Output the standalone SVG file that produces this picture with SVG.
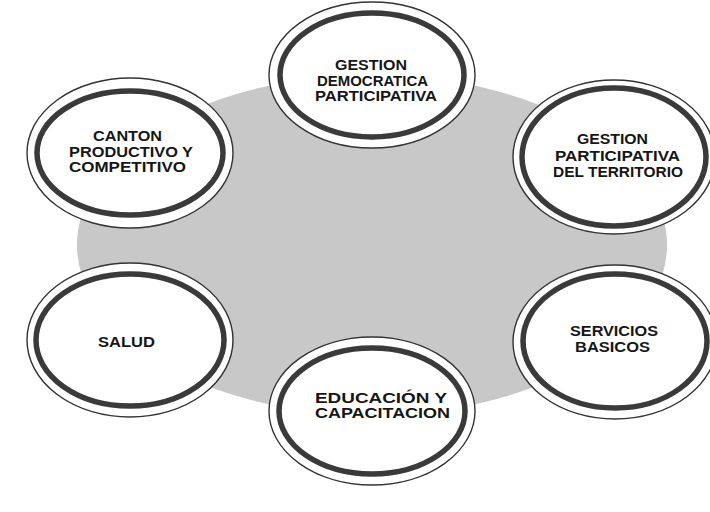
<svg xmlns="http://www.w3.org/2000/svg" width="710" height="512" viewBox="0 0 710 512">
  <style>
    .outer { fill: #ffffff; stroke: #333333; stroke-width: 1.4; }
    .inner { fill: #ffffff; stroke: #3a3a3a; stroke-width: 5.5; }
    .lbl { font-family: "Liberation Sans", Arial, sans-serif; font-weight: bold; font-size: 14.5px; fill: #161616; text-anchor: middle; }
  </style>
  <rect x="0" y="0" width="710" height="512" fill="#ffffff"/>
  <ellipse id="background" cx="372" cy="245" rx="295" ry="170" fill="#c8c8c8"/>
  <g id="connectors"></g>

  <g id="node-gestion-democratica">
    <ellipse class="outer" cx="372" cy="75" rx="103" ry="73"/>
    <ellipse class="inner" cx="372" cy="75" rx="92" ry="62"/>
    <text class="lbl" x="371" y="70" textLength="72" lengthAdjust="spacingAndGlyphs">GESTION</text>
    <text class="lbl" x="372.5" y="86" textLength="111" lengthAdjust="spacingAndGlyphs">DEMOCRATICA</text>
    <text class="lbl" x="376" y="101" textLength="122" lengthAdjust="spacingAndGlyphs">PARTICIPATIVA</text>
  </g>

  <g id="node-canton">
    <ellipse class="outer" cx="130" cy="153" rx="103" ry="75"/>
    <ellipse class="inner" cx="130" cy="153" rx="93" ry="62"/>
    <text class="lbl" x="127.5" y="141" textLength="69" lengthAdjust="spacingAndGlyphs">CANTON</text>
    <text class="lbl" x="131" y="156.5" textLength="124" lengthAdjust="spacingAndGlyphs">PRODUCTIVO Y</text>
    <text class="lbl" x="127.5" y="172" textLength="117" lengthAdjust="spacingAndGlyphs">COMPETITIVO</text>
  </g>

  <g id="node-gestion-territorio">
    <ellipse class="outer" cx="614" cy="157" rx="101" ry="77"/>
    <ellipse class="inner" cx="614" cy="157" rx="92" ry="69"/>
    <text class="lbl" x="612.5" y="144" textLength="71" lengthAdjust="spacingAndGlyphs">GESTION</text>
    <text class="lbl" x="617.5" y="161" textLength="125" lengthAdjust="spacingAndGlyphs">PARTICIPATIVA</text>
    <text class="lbl" x="618" y="177" textLength="130" lengthAdjust="spacingAndGlyphs">DEL TERRITORIO</text>
  </g>

  <g id="node-salud">
    <ellipse class="outer" cx="130" cy="340" rx="103" ry="77"/>
    <ellipse class="inner" cx="130" cy="340" rx="94" ry="66"/>
    <text class="lbl" x="126.5" y="347" textLength="57" lengthAdjust="spacingAndGlyphs">SALUD</text>
  </g>

  <g id="node-servicios">
    <ellipse class="outer" cx="615" cy="342" rx="102" ry="77"/>
    <ellipse class="inner" cx="615" cy="341" rx="92" ry="67"/>
    <text class="lbl" x="614" y="336" textLength="88" lengthAdjust="spacingAndGlyphs">SERVICIOS</text>
    <text class="lbl" x="612.5" y="352" textLength="75" lengthAdjust="spacingAndGlyphs">BASICOS</text>
  </g>

  <g id="node-educacion">
    <ellipse class="outer" cx="372" cy="411" rx="103" ry="74"/>
    <ellipse class="inner" cx="372" cy="411" rx="93" ry="63"/>
    <text class="lbl" x="381" y="403" textLength="132" lengthAdjust="spacingAndGlyphs">EDUCACIÓN Y</text>
    <text class="lbl" x="382.5" y="418" textLength="135" lengthAdjust="spacingAndGlyphs">CAPACITACION</text>
  </g>
</svg>
